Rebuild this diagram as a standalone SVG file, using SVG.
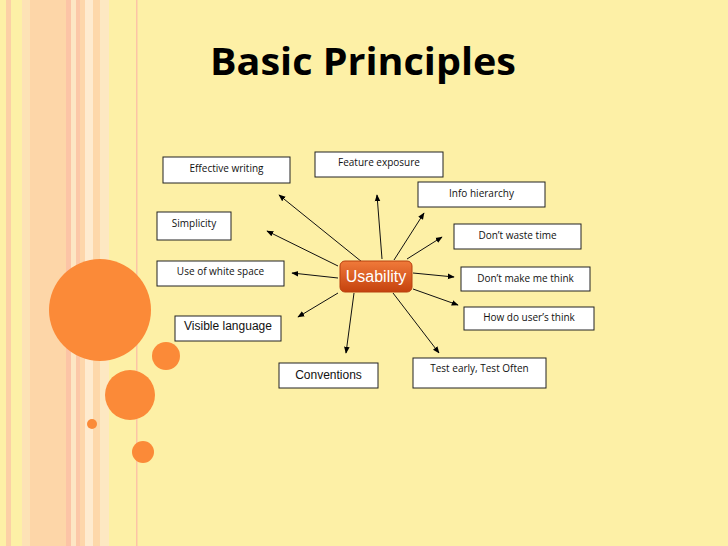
<svg xmlns="http://www.w3.org/2000/svg" width="728" height="546" viewBox="0 0 728 546">
<defs>
<linearGradient id="og" x1="0" y1="0" x2="0" y2="1"><stop offset="0" stop-color="#f07a3a"/><stop offset="1" stop-color="#c5420e"/></linearGradient>
<marker id="ah" viewBox="0 0 10 10" refX="9" refY="5" markerWidth="7" markerHeight="7" orient="auto"><path d="M0,1 L10,5 L0,9 z" fill="#000"/></marker>
</defs>
<style>
.box{fill:#fff;stroke:#222;stroke-width:1}
.t{font-family:"Open Sans","Liberation Sans",sans-serif;font-size:10px;fill:#111;text-anchor:middle}
.t2{font-family:"Liberation Sans",sans-serif;font-size:12px;fill:#111;text-anchor:middle}
.c{stroke:#111;stroke-width:1;fill:none;marker-end:url(#ah)}
.dot{fill:#fb8a38}
</style>
<rect width="728" height="546" fill="#fdf0a6"/>
<g id="stripes">
<rect x="6" y="0" width="5" height="546" fill="#fcd0a6"/>
<rect x="22" y="0" width="8" height="546" fill="#fde2b6"/>
<rect x="30" y="0" width="36" height="546" fill="#fdd6a8"/>
<rect x="66" y="0" width="5" height="546" fill="#fcc4a6"/>
<rect x="71" y="0" width="5" height="546" fill="#fde6c4"/>
<rect x="76" y="0" width="4" height="546" fill="#fcc8a8"/>
<rect x="80" y="0" width="5" height="546" fill="#fdd6aa"/>
<rect x="85" y="0" width="8" height="546" fill="#feebcf"/>
<rect x="93" y="0" width="7" height="546" fill="#fdd8aa"/>
<rect x="100" y="0" width="9" height="546" fill="#fde8c2"/>
<rect x="136" y="0" width="1.5" height="546" fill="#fcc4a6"/>
</g>
<g id="dots">
<circle class="dot" cx="100" cy="310" r="51"/>
<circle class="dot" cx="166" cy="356" r="14"/>
<circle class="dot" cx="130" cy="395" r="25"/>
<circle class="dot" cx="92" cy="424" r="5"/>
<circle class="dot" cx="143" cy="452" r="11"/>
</g>
<text x="363" y="75" font-family="'Open Sans','Liberation Sans',sans-serif" font-weight="bold" font-size="38" text-anchor="middle" textLength="306" lengthAdjust="spacingAndGlyphs" fill="#000">Basic Principles</text>
<g id="connectors">
<line class="c" x1="362" y1="262" x2="279" y2="195"/>
<line class="c" x1="338" y1="266" x2="267" y2="231"/>
<line class="c" x1="338" y1="278" x2="292" y2="273"/>
<line class="c" x1="338" y1="293" x2="298" y2="317"/>
<line class="c" x1="354" y1="293" x2="346" y2="353"/>
<line class="c" x1="393" y1="293" x2="439" y2="353"/>
<line class="c" x1="413" y1="289" x2="458" y2="305"/>
<line class="c" x1="413" y1="273" x2="454" y2="277"/>
<line class="c" x1="407" y1="259" x2="442" y2="237"/>
<line class="c" x1="394" y1="260" x2="424" y2="213"/>
<line class="c" x1="382" y1="259" x2="377" y2="195"/>
</g>
<g id="usability"><rect x="340" y="261" width="72" height="31" rx="5" fill="url(#og)" stroke="#b8400e"/><text x="376" y="282" font-family="'Liberation Sans',sans-serif" font-size="16" fill="#fff" text-anchor="middle">Usability</text></g>
<g id="n1"><rect class="box" x="163" y="157" width="127" height="26"/><text class="t" x="226.5" y="172">Effective writing</text></g>
<g id="n2"><rect class="box" x="315" y="152" width="128" height="25"/><text class="t" x="379" y="166">Feature exposure</text></g>
<g id="n3"><rect class="box" x="418" y="182" width="127" height="25"/><text class="t" x="481.5" y="197">Info hierarchy</text></g>
<g id="n4"><rect class="box" x="157" y="212" width="74" height="28"/><text class="t" x="194" y="227">Simplicity</text></g>
<g id="n5"><rect class="box" x="454" y="224" width="127" height="25"/><text class="t" x="517.5" y="239">Don’t waste time</text></g>
<g id="n6"><rect class="box" x="157" y="261" width="127" height="25"/><text class="t" x="220.5" y="275">Use of white space</text></g>
<g id="n7"><rect class="box" x="461" y="267" width="129" height="24"/><text class="t" x="525.5" y="282">Don’t make me think</text></g>
<g id="n8"><rect class="box" x="464" y="307" width="130" height="23"/><text class="t" x="529" y="321">How do user’s think</text></g>
<g id="n9"><rect class="box" x="175" y="316" width="106" height="25"/><text class="t2" x="228" y="330">Visible language</text></g>
<g id="n10"><rect class="box" x="279" y="363" width="99" height="25"/><text class="t2" x="328.5" y="379">Conventions</text></g>
<g id="n11"><rect class="box" x="413" y="358" width="133" height="30"/><text class="t" x="479.5" y="372">Test early, Test Often</text></g>
</svg>
